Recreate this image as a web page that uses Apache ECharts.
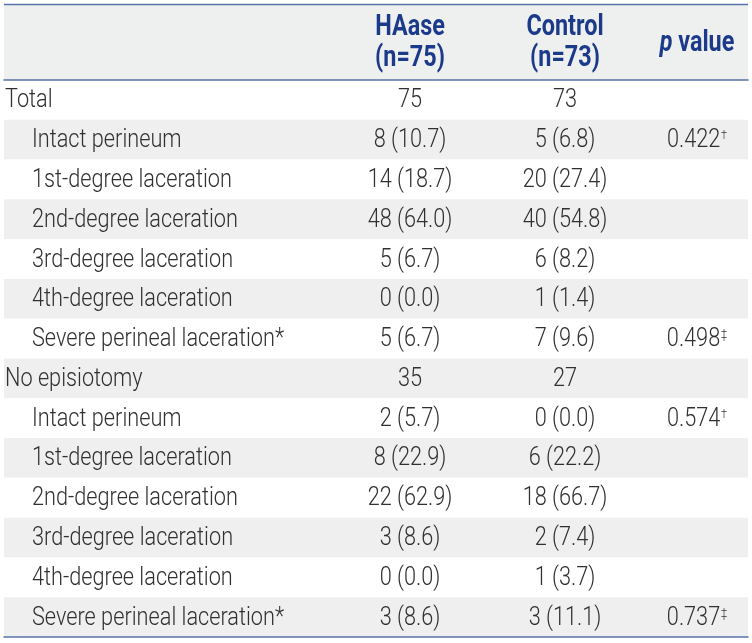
<!DOCTYPE html>
<html>
<head>
<meta charset="utf-8">
<script src="https://cdn.jsdelivr.net/npm/echarts@6/dist/echarts.min.js"></script>
<style>
html,body{margin:0;padding:0;background:#fff;}
#chart{width:752px;height:643px;}
</style>
</head>
<body>
<div id="chart"></div>
<script>
// ---- data ----
const headerGroups = ['HAase', 'Control'];
const headerN = ['(n=75)', '(n=73)'];
const headerP = ['p', ' value'];
const rowLabels = ['Total', 'Intact perineum', '1st-degree laceration', '2nd-degree laceration',
  '3rd-degree laceration', '4th-degree laceration', 'Severe perineal laceration*',
  'No episiotomy', 'Intact perineum', '1st-degree laceration', '2nd-degree laceration',
  '3rd-degree laceration', '4th-degree laceration', 'Severe perineal laceration*'];
const rowIndent = [0, 1, 1, 1, 1, 1, 1, 0, 1, 1, 1, 1, 1, 1];
const haase = ['75', '8 (10.7)', '14 (18.7)', '48 (64.0)', '5 (6.7)', '0 (0.0)', '5 (6.7)',
  '35', '2 (5.7)', '8 (22.9)', '22 (62.9)', '3 (8.6)', '0 (0.0)', '3 (8.6)'];
const control = ['73', '5 (6.8)', '20 (27.4)', '40 (54.8)', '6 (8.2)', '1 (1.4)', '7 (9.6)',
  '27', '0 (0.0)', '6 (22.2)', '18 (66.7)', '2 (7.4)', '1 (3.7)', '3 (11.1)'];
const pValues = ['', '0.422', '', '', '', '', '0.498', '', '0.574', '', '', '', '', '0.737'];
const pMarks = ['', '\u2020', '', '', '', '', '\u2021', '', '\u2020', '', '', '', '', '\u2021'];

// ---- layout ----
const W = 752, H = 643;
const L = 4, R = 748;
const TOP = 80, BOTTOM = 637;
const colLabel = [5, 32];
const colHaase = 410, colControl = 565, colP = 697;
const FONT = "Roboto, 'DejaVu Sans', sans-serif";
const BODY_SIZE = 26, BODY_SX = 0.835, BODY_W = 300;
const HEAD_SIZE = 30, HEAD_SX = 0.78;
const TEXT = '#303030';
const HEAD = '#1c3a8a';
const LINE = '#5871a8';

const chart = echarts.init(document.getElementById('chart'), null, {renderer: 'canvas'});

function cellSeries(name, xs, texts, align, rich) {
  return {
    type: 'custom', name: name, silent: true,
    encode: {x: 0, y: 1},
    data: texts.map((t, i) => [Array.isArray(xs) ? xs[i] : xs, i]),
    renderItem: function (params, api) {
      const idx = params.dataIndex;
      const t = texts[idx];
      if (!t) return null;
      const pt = api.coord([api.value(0), api.value(1)]);
      const font = BODY_W + ' ' + BODY_SIZE + 'px ' + FONT;
      const style = {
        text: rich ? rich(idx) : t,
        font: font, fill: TEXT,
        align: align, verticalAlign: 'middle'
      };
      if (rich) {
        style.rich = {
          v: {font: font, fill: TEXT},
          s: {font: BODY_W + ' 13px ' + FONT, fill: TEXT, verticalAlign: 'top', padding: [2, 0, 0, 1]}
        };
      }
      return {type: 'text', x: pt[0], y: pt[1] + 1, scaleX: BODY_SX, style: style};
    }
  };
}

function headText(x, y, text, rich) {
  return {type: 'text', x: x, y: y, scaleX: HEAD_SX, style: {
    text: text, font: 'bold ' + HEAD_SIZE + 'px ' + FONT, fill: HEAD,
    align: 'center', verticalAlign: 'middle', rich: rich}};
}

const option = {
  animation: false,
  backgroundColor: '#fff',
  grid: {left: L, right: W - R, top: TOP, bottom: H - BOTTOM, containLabel: false},
  xAxis: [
    {type: 'value', min: L, max: R, position: 'top',
      axisLine: {show: true, lineStyle: {color: LINE, width: 1.5}},
      axisTick: {show: false}, axisLabel: {show: false}, splitLine: {show: false}},
    {type: 'value', min: L, max: R, position: 'bottom',
      axisLine: {show: true, lineStyle: {color: LINE, width: 1.5}},
      axisTick: {show: false}, axisLabel: {show: false}, splitLine: {show: false}}
  ],
  yAxis: {
    type: 'category', inverse: true,
    data: rowLabels.map((_, i) => String(i)),
    axisLine: {show: false}, axisTick: {show: false}, axisLabel: {show: false},
    splitLine: {show: false},
    splitArea: {show: true, interval: 0, areaStyle: {color: ['#ffffff', '#efefef']}}
  },
  graphic: [
    {type: 'rect', shape: {x: L, y: 4, width: R - L, height: TOP - 4}, style: {fill: '#eeefef'}, z: -1},
    {type: 'line', shape: {x1: L, y1: 4.5, x2: R, y2: 4.5}, style: {stroke: LINE, lineWidth: 1.5}},
    headText(colHaase, 27, headerGroups[0]),
    headText(colHaase, 58, headerN[0]),
    headText(colControl, 27, headerGroups[1]),
    headText(colControl, 58, headerN[1]),
    headText(colP, 43, '{i|' + headerP[0] + '}{b|' + headerP[1] + '}', {
      i: {font: 'italic bold ' + HEAD_SIZE + 'px ' + FONT, fill: HEAD},
      b: {font: 'bold ' + HEAD_SIZE + 'px ' + FONT, fill: HEAD}
    })
  ],
  series: [
    cellSeries('labels', rowIndent.map(d => colLabel[d]), rowLabels, 'left'),
    cellSeries('haase', colHaase, haase, 'center'),
    cellSeries('control', colControl, control, 'center'),
    cellSeries('p', colP, pValues, 'center', i => '{v|' + pValues[i] + '}{s|' + pMarks[i] + '}')
  ]
};
chart.setOption(option);
</script>
</body>
</html>
